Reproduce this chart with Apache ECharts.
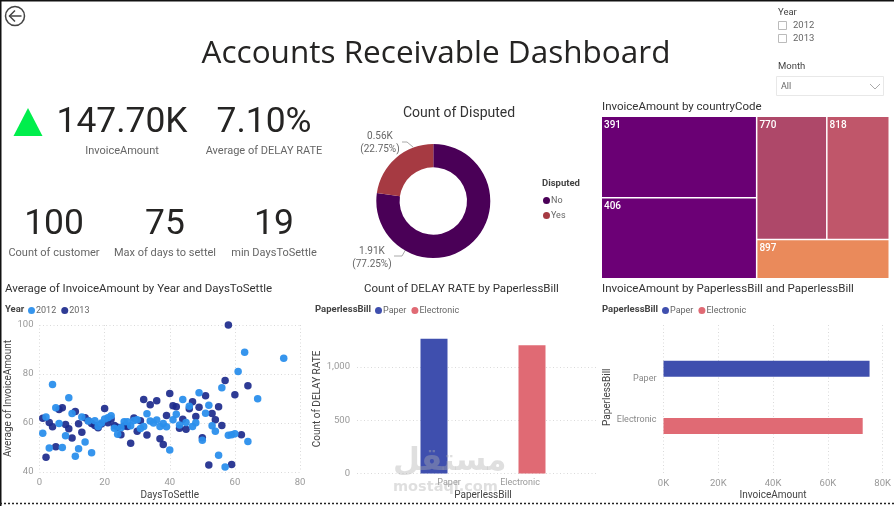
<!DOCTYPE html>
<html><head><meta charset="utf-8">
<style>html,body{margin:0;padding:0;background:#fff}#c{width:894px;height:506px}</style>
<script src="https://cdn.jsdelivr.net/npm/echarts@6/dist/echarts.min.js"></script>
</head><body><div id="c"></div>
<script>
const points2012=[[1,55.8],[2,62.4],[3,49.8],[4,75.7],[5,66.2],[6,59.8],[7,50],[8,54.8],[9,70.3],[10,63.9],[11,46.4],[12,49.5],[13,62.5],[14,52.2],[15,60.8],[16,47.9],[17,60.9],[18,58.6],[19,60],[20,61.6],[21,62.1],[22,63],[23,57.9],[24,55.4],[25,58.1],[26,60.5],[27,60.5],[28,58.9],[29,61],[30,61.3],[31,57.8],[32,58.6],[33,63.8],[34,60.8],[35,60],[36,61.2],[37,58.6],[38,59.8],[39,58.5],[40,49],[41,61.3],[42,63.6],[43,59.2],[44,69.6],[45,60.2],[46,66.8],[47,58.6],[48,60.1],[49,72.3],[50,53],[51,64],[52,67.2],[53,58.9],[54,56.6],[55,46.8],[56,74.4],[57,42],[58,55],[59,55.2],[60,55.6],[61,81],[63,88.9],[64,52.5],[67,69.9],[75,86.4]];
const points2013=[[1,61.9],[2,46],[3,60.2],[4,58.5],[5,50.3],[6,65.5],[7,66.2],[8,59.4],[9,57.7],[10,53.9],[11,64.7],[12,59.7],[13,56.2],[14,62.1],[15,60.9],[16,59.8],[17,59],[18,58.1],[19,59.6],[20,65.9],[21,60.1],[22,61.6],[23,59],[24,58.3],[25,55.2],[26,58.8],[27,58.6],[28,51.7],[29,62],[30,56.6],[31,60.9],[32,69.6],[33,55.1],[34,67.4],[36,69.1],[37,53.6],[38,51.2],[39,63.1],[40,72],[41,67],[42,66.6],[43,57.9],[44,61.5],[45,57.4],[46,65.8],[47,68.7],[48,62.7],[49,66.4],[50,54],[51,71.1],[52,42.9],[53,63.9],[54,61.3],[55,66.6],[56,59],[57,77.3],[58,100],[59,43.1],[60,71.5],[62,55.2],[64,75.2]];
const billCategories=['Paper','Electronic'];
const delayCounts=[1265,1205];
const invoiceByBill=[75100,72600];
const disputedNames=['No','Yes'];
const disputedCounts=[1908,562];
const countryCodes=['391','406','770','818','897'];
const countryAmounts=[40000,39700,27300,24300,16400];
const countryColors=['#6a0074','#6c0076','#ae4869','#c0566a','#ea8a5b'];
const kpis=[['147.70K','InvoiceAmount',122,122,120],['7.10%','Average of DELAY RATE',264,122,120],['100','Count of customer',54,224,222],['75','Max of days to settel',165,224,222],['19','min DaysToSettle',274,224,222]];

const F='Roboto, sans-serif';
const BLUE='#3f4fae', RED='#e06a74';
const gridLine={show:true,lineStyle:{color:'#dadada',type:[1,2.5],width:1}};
const axLabel={color:'#999',fontSize:9.5,fontFamily:F};
const axName={color:'#444',fontSize:10,fontFamily:F};
const txt=(x,y,text,fs,color,extra)=>({type:'text',x,y:y+1,silent:true,z:20,style:Object.assign({text,fontSize:fs,fill:color,fontFamily:F,textAlign:'left',textVerticalAlign:'middle'},extra||{})});
const legendCommon={orient:'horizontal',icon:'circle',itemWidth:7,itemHeight:7,itemGap:5,selectedMode:false,textStyle:{color:'#666',fontSize:9,fontFamily:F,padding:[0,0,0,-4]}};

const graphic=[
 {type:'rect',shape:{x:0,y:0,width:894,height:1.5},style:{fill:'#111'},silent:true},
 {type:'rect',shape:{x:0,y:0,width:1.5,height:506},style:{fill:'#111'},silent:true},
 {type:'line',shape:{x1:0,y1:503.5,x2:894,y2:503.5},style:{stroke:'#222',lineWidth:1.5,lineDash:[2,2]},silent:true},
 {type:'circle',shape:{cx:15,cy:16,r:9.5},style:{fill:'none',stroke:'#444',lineWidth:1.5},silent:true},
 {type:'polyline',shape:{points:[[15,10.5],[9.5,16],[15,21.5]]},style:{fill:'none',stroke:'#444',lineWidth:1.5},silent:true},
 {type:'line',shape:{x1:9.5,y1:16,x2:21.5,y2:16},style:{stroke:'#444',lineWidth:1.5},silent:true},
 txt(436,53,'Accounts Receivable Dashboard',31.5,'#252423',{fontFamily:'"Open Sans", sans-serif',textAlign:'center'}),
 {type:'polygon',shape:{points:[[13.5,136],[42.5,136],[28,108]]},style:{fill:'#00ee4c'},silent:true},
 txt(778,12,'Year',9.5,'#444'),
 {type:'rect',shape:{x:778.5,y:21.5,width:8,height:8},style:{fill:'#fff',stroke:'#bbb'},silent:true},
 txt(793,25,'2012',9.5,'#666'),
 {type:'rect',shape:{x:778.5,y:34.5,width:8,height:8},style:{fill:'#fff',stroke:'#bbb'},silent:true},
 txt(793,38,'2013',9.5,'#666'),
 txt(778,66,'Month',9.5,'#444'),
 {type:'rect',shape:{x:776.5,y:76.5,width:107,height:19},style:{fill:'#fff',stroke:'#e8e8e8'},silent:true},
 txt(781,85.5,'All',9,'#666'),
 {type:'polyline',shape:{points:[[870,84],[875,89],[880,84]]},style:{fill:'none',stroke:'#aaa'},silent:true},
 txt(459,112,'Count of Disputed',14,'#333',{textAlign:'center'}),
 txt(602,106,'InvoiceAmount by countryCode',11.5,'#333',{letterSpacing:0.35}),
 txt(5,288,'Average of InvoiceAmount by Year and DaysToSettle',11.5,'#333',{letterSpacing:0.15}),
 txt(364,288,'Count of DELAY RATE by PaperlessBill',11.5,'#333',{letterSpacing:0.35}),
 txt(602,288,'InvoiceAmount by PaperlessBill and PaperlessBill',11.5,'#333',{letterSpacing:0.25}),
 txt(5,309,'Year',9.5,'#444',{fontWeight:'bold'}),
 txt(315,309,'PaperlessBill',9.5,'#444',{fontWeight:'bold'}),
 txt(602,309,'PaperlessBill',9.5,'#444',{fontWeight:'bold'}),
 txt(542,183,'Disputed',9.5,'#444',{fontWeight:'bold'}),
 {type:'polyline',shape:{points:[[394,256],[402,256],[406,249]]},style:{fill:'none',stroke:'#aaa'},silent:true},
 {type:'polyline',shape:{points:[[402,142],[407,142],[413,147]]},style:{fill:'none',stroke:'#aaa'},silent:true},
 txt(393,461,'مستقل',31,'rgba(175,175,175,0.4)',{fontFamily:'"DejaVu Sans", sans-serif',fontWeight:'bold'}),
 txt(393,486,'mostaql.com',14.5,'rgba(175,175,175,0.4)',{fontFamily:'"DejaVu Sans", sans-serif',fontWeight:'bold'})
];
kpis.forEach(k=>{
 graphic.push(txt(k[2],k[3],k[0],35.4,'#252423',{textAlign:'center'}));
 graphic.push(txt(k[2],k[4]+30,k[1],11,'#666',{textAlign:'center'}));
});

const pieLayouts=[
 {x:372,y:258,align:'center',verticalAlign:'middle'},
 {x:380,y:143,align:'center',verticalAlign:'middle'}
];

const option={
 animation:false,backgroundColor:'#fff',graphic,
 legend:[
  Object.assign({},legendCommon,{left:23,top:301,data:['2012','2013']}),
  Object.assign({},legendCommon,{left:370,top:301,data:billCategories.map(n=>({name:n}))}),
  Object.assign({},legendCommon,{left:657,top:301,data:billCategories.map(n=>({name:n}))}),
  Object.assign({},legendCommon,{orient:'vertical',left:538,top:191,itemGap:6,data:disputedNames})
 ],
 grid:[
  {left:39.5,top:325,width:260.5,height:147},
  {left:357,top:324.5,width:241,height:149},
  {left:385,top:324.5,width:196,height:149},
  {left:663.5,top:325,width:219.5,height:148},
  {left:663.5,top:340,width:219.5,height:114.5}
 ],
 xAxis:[
  {gridIndex:0,type:'value',min:0,max:80,interval:20,name:'DaysToSettle',nameLocation:'middle',nameGap:18,nameTextStyle:axName,axisLabel:Object.assign({margin:6},axLabel),axisLine:{show:false},axisTick:{show:false},splitLine:gridLine},
  {gridIndex:1,type:'category',show:false,data:billCategories},
  {gridIndex:2,type:'category',data:billCategories,name:'PaperlessBill',nameLocation:'middle',nameGap:17,nameTextStyle:axName,axisLine:{show:false},axisTick:{show:false},
   axisLabel:{margin:5,interval:0,hideOverlap:false,formatter:v=>`{${v}|${v}}`,rich:{Paper:{color:'#999',fontSize:9,fontFamily:F,padding:[0,0,0,30]},Electronic:{color:'#999',fontSize:9,fontFamily:F,padding:[0,24,0,0]}}}},
  {gridIndex:3,type:'value',min:0,max:80000,interval:20000,name:'InvoiceAmount',nameLocation:'middle',nameGap:17,nameTextStyle:axName,axisLabel:Object.assign({margin:6,formatter:v=>(v/1000)+'K'},axLabel),axisLine:{show:false},axisTick:{show:false},splitLine:gridLine},
  {gridIndex:4,type:'value',min:0,max:80000,show:false}
 ],
 yAxis:[
  {gridIndex:0,type:'value',min:40,max:100,interval:20,name:'Average of InvoiceAmount',nameLocation:'middle',nameGap:17,nameTextStyle:axName,axisLabel:Object.assign({margin:6},axLabel),axisLine:{show:false},axisTick:{show:false},splitLine:gridLine},
  {gridIndex:1,type:'value',min:0,max:1400,interval:500,name:'Count of DELAY RATE',nameLocation:'middle',nameGap:23,nameTextStyle:axName,axisLabel:Object.assign({margin:7,showMaxLabel:false,formatter:v=>v.toLocaleString('en-US')},axLabel),axisLine:{show:false},axisTick:{show:false},splitLine:Object.assign({showMaxLine:false},gridLine)},
  {gridIndex:2,type:'value',min:0,max:1400,show:false},
  {gridIndex:3,type:'category',show:false,inverse:true,data:billCategories},
  {gridIndex:4,type:'category',inverse:true,data:billCategories,name:'PaperlessBill',nameLocation:'middle',nameGap:45,nameTextStyle:axName,axisLine:{show:false},axisTick:{show:false},
   axisLabel:{margin:7,interval:0,hideOverlap:false,formatter:v=>`{${v}|${v}}`,rich:{Paper:{color:'#888',fontSize:9,fontFamily:F,padding:[20,0,0,0]},Electronic:{color:'#888',fontSize:9,fontFamily:F,padding:[0,0,13,0]}}}}
 ],
 series:[
  {type:'scatter',name:'2012',z:3,xAxisIndex:0,yAxisIndex:0,data:points2012,symbolSize:7.5,clip:true,itemStyle:{color:'#2b8fec',opacity:0.95}},
  {type:'scatter',name:'2013',z:2,xAxisIndex:0,yAxisIndex:0,data:points2013,symbolSize:7.5,clip:true,itemStyle:{color:'#1c2a8c',opacity:0.92}},
  {type:'bar',name:billCategories[0],xAxisIndex:2,yAxisIndex:2,stack:'a',barWidth:27,data:[delayCounts[0],null],itemStyle:{color:BLUE}},
  {type:'bar',name:billCategories[1],xAxisIndex:2,yAxisIndex:2,stack:'a',barWidth:27,data:[null,delayCounts[1]],itemStyle:{color:RED}},
  {type:'bar',name:billCategories[0],xAxisIndex:4,yAxisIndex:4,stack:'b',barWidth:16,data:[invoiceByBill[0],null],itemStyle:{color:BLUE}},
  {type:'bar',name:billCategories[1],xAxisIndex:4,yAxisIndex:4,stack:'b',barWidth:16,data:[null,invoiceByBill[1]],itemStyle:{color:RED}},
  {type:'pie',name:'Disputed',center:[433.3,201],radius:[33.7,57],startAngle:90,clockwise:true,
   data:disputedNames.map((n,i)=>({name:n,value:disputedCounts[i],itemStyle:{color:['#4a0057','#a63a42'][i]}})),
   label:{show:true,position:'outside',color:'#666',fontSize:10,fontFamily:F,lineHeight:13,formatter:p=>(p.value/1000).toFixed(2)+'K\n('+p.percent.toFixed(2)+'%)'},
   labelLine:{show:false},
   labelLayout:p=>pieLayouts[p.dataIndex]},
  {type:'treemap',left:602,top:117,width:286.5,height:161,roam:false,nodeClick:false,breadcrumb:{show:false},
   itemStyle:{borderColor:'#fff',borderWidth:0,gapWidth:1},
   levels:[{itemStyle:{gapWidth:1.5,borderWidth:0}}],
   label:{show:true,position:'insideTopLeft',distance:1,padding:[2,0,0,1],color:'#fff',fontSize:10,fontWeight:500,fontFamily:F},
   data:countryCodes.map((c,i)=>({name:c,value:countryAmounts[i],itemStyle:{color:countryColors[i]}}))}
 ]
};
echarts.init(document.getElementById('c'),null,{renderer:'canvas'}).setOption(option);
</script></body></html>
